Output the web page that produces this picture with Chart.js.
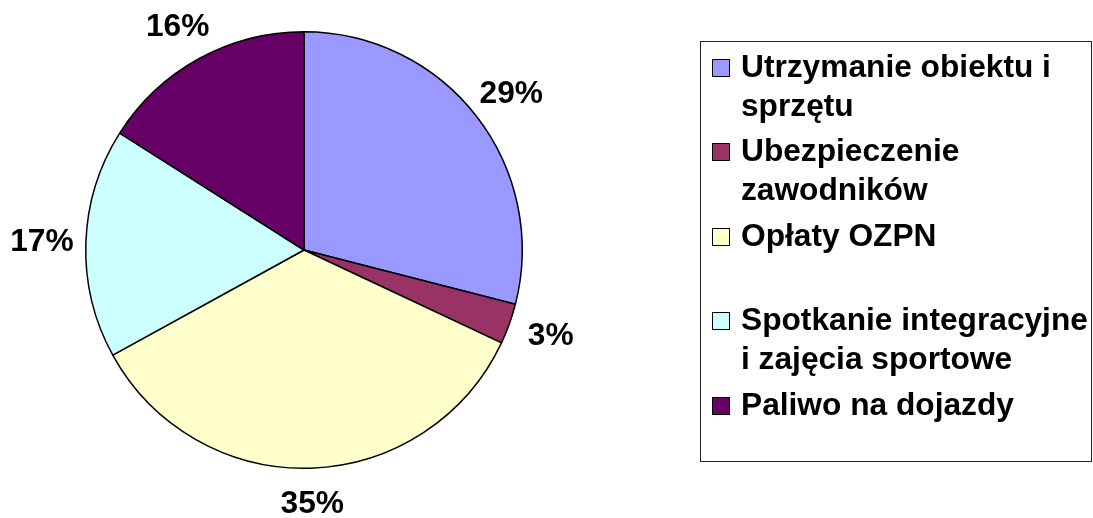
<!DOCTYPE html>
<html>
<head>
<meta charset="utf-8">
<script src="https://cdn.jsdelivr.net/npm/chart.js@4/dist/chart.umd.min.js"></script>
<style>
  html, body { margin: 0; padding: 0; background: #ffffff; }
  #wrap { position: relative; width: 1093px; height: 518px; overflow: hidden; }
  #c { position: absolute; left: 0; top: 0; }
  #legend {
    position: absolute; left: 700px; top: 41px; width: 392px; height: 421px;
    box-sizing: border-box; border: 1px solid #222; background: #fff;
  }
  .item { position: absolute; left: 0; width: 100%; }
  .sw { position: absolute; left: 11px; width: 18px; height: 18px; box-sizing: border-box; border: 1px solid #000; }
  .tx {
    position: absolute; left: 40px; width: 352px;
    font-family: "Liberation Sans", Arial, sans-serif; font-weight: bold; font-size: 31.7px;
    line-height: 39px; color: #000; white-space: normal;
  }
</style>
</head>
<body>
<div id="wrap">
  <canvas id="c" width="1093" height="518"></canvas>
  <div id="legend"></div>
</div>
<script>
const categories = [
  'Utrzymanie obiektu i sprzętu',
  'Ubezpieczenie zawodników',
  'Opłaty OZPN',
  'Spotkanie integracyjne i zajęcia sportowe',
  'Paliwo na dojazdy'
];
const values = [29, 3, 35, 17, 16];
const colors = ['#9999FF', '#993366', '#FFFFCC', '#CCFFFF', '#660066'];

const FONT = '"Liberation Sans", Arial, sans-serif';

const pctLabels = {
  id: 'pctLabels',
  afterDatasetsDraw(chart) {
    const ctx = chart.ctx;
    const meta = chart.getDatasetMeta(0);
    const data = chart.data.datasets[0].data;
    const total = data.reduce((a, b) => a + b, 0);
    ctx.save();
    ctx.font = 'bold 31.7px ' + FONT;
    ctx.fillStyle = '#000';
    ctx.textAlign = 'center';
    ctx.textBaseline = 'middle';
    meta.data.forEach((arc, i) => {
      const p = arc.getProps(['x', 'y', 'startAngle', 'endAngle', 'outerRadius'], true);
      const mid = (p.startAngle + p.endAngle) / 2;
      const x = p.x + Math.cos(mid) * (p.outerRadius + 44);
      const y = p.y + Math.sin(mid) * (p.outerRadius + 36);
      ctx.fillText(Math.round(data[i] / total * 100) + '%', x, y);
    });
    ctx.restore();
  }
};

new Chart(document.getElementById('c'), {
  type: 'pie',
  data: {
    labels: categories,
    datasets: [{
      data: values,
      backgroundColor: colors,
      borderColor: '#000',
      borderWidth: 1.5
    }]
  },
  options: {
    responsive: false,
    animation: false,
    layout: { padding: { left: 85, right: 570, top: 31, bottom: 49 } },
    plugins: {
      legend: { display: false },
      tooltip: { enabled: false }
    }
  },
  plugins: [pctLabels]
});

// HTML legend
const legend = document.getElementById('legend');
const slot = 84.5;
categories.forEach((name, i) => {
  const item = document.createElement('div');
  item.className = 'item';
  item.style.top = (4.5 + slot * i) + 'px';
  const sw = document.createElement('div');
  sw.className = 'sw';
  sw.style.background = colors[i];
  sw.style.top = '12px';
  const tx = document.createElement('div');
  tx.className = 'tx';
  tx.textContent = name;
  item.appendChild(sw);
  item.appendChild(tx);
  legend.appendChild(item);
});
</script>
</body>
</html>
